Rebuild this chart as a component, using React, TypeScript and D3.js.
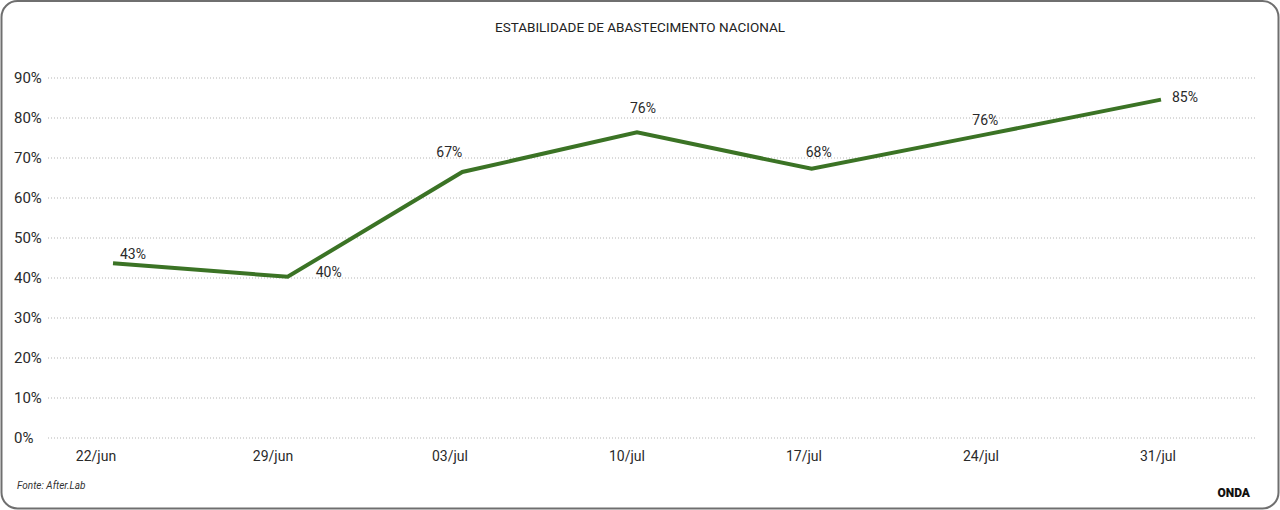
import React, { useEffect, useRef } from 'react';
import * as d3 from 'd3';

// chart data
const dates = ['22/jun', '29/jun', '03/jul', '10/jul', '17/jul', '24/jul', '31/jul'];
const values = [43.7, 40.3, 66.5, 76.4, 67.3, 75.9, 84.6];
const valueLabels = ['43%', '40%', '67%', '76%', '68%', '76%', '85%'];
const yTicks = [0, 10, 20, 30, 40, 50, 60, 70, 80, 90];

// label placement relative to each point (dx = centre, dy = baseline)
const labelOffsets: Array<[number, number]> = [
  [20, -4], [41, 0], [-13, -15], [6, -19], [7, -12], [-1, -9], [24, 2],
];

const W = 1280;
const H = 510;
const FONT = 'Roboto, "Noto Sans", Arial, sans-serif';

const App: React.FC = () => {
  const svgRef = useRef<SVGSVGElement>(null);

  useEffect(() => {
    if (!svgRef.current) return;
    const svg = d3.select(svgRef.current);
    svg.selectAll('*').remove();

    // outer frame
    svg.append('rect')
      .attr('x', 1.5)
      .attr('y', 1)
      .attr('width', W - 3)
      .attr('height', H - 2.5)
      .attr('rx', 16)
      .attr('fill', '#fff')
      .attr('stroke', '#6f6f6f')
      .attr('stroke-width', 2);

    svg.append('text')
      .attr('x', 640)
      .attr('y', 32)
      .attr('text-anchor', 'middle')
      .attr('font-family', FONT)
      .style('font-size', '13.5px')
      .style('fill', '#222')
      .text('ESTABILIDADE DE ABASTECIMENTO NACIONAL');

    const yScale = d3.scaleLinear().domain([0, 90]).range([438, 78]);
    const xLine = d3.scalePoint<string>().domain(dates).range([113, 1161]);
    const xLabel = d3.scalePoint<string>().domain(dates).range([96, 1158]);

    // gridlines
    svg.append('g')
      .selectAll('line')
      .data(yTicks)
      .join('line')
      .attr('x1', 48)
      .attr('x2', 1255)
      .attr('y1', d => yScale(d))
      .attr('y2', d => yScale(d))
      .attr('stroke', '#b5b5b5')
      .attr('stroke-width', 1)
      .attr('stroke-dasharray', '1,2');

    // y tick labels
    svg.append('g')
      .selectAll('text')
      .data(yTicks)
      .join('text')
      .attr('x', 14)
      .attr('y', d => yScale(d) + 5)
      .attr('font-family', FONT)
      .style('font-size', '15px')
      .style('fill', '#2a2a2a')
      .text(d => `${d}%`);

    // x tick labels
    svg.append('g')
      .selectAll('text')
      .data(dates)
      .join('text')
      .attr('x', d => xLabel(d) as number)
      .attr('y', 461)
      .attr('text-anchor', 'middle')
      .attr('font-family', FONT)
      .style('font-size', '14px')
      .style('fill', '#2a2a2a')
      .text(d => d);

    const line = d3.line<number>()
      .x((_, i) => xLine(dates[i]) as number)
      .y(d => yScale(d));

    svg.append('path')
      .datum(values)
      .attr('fill', 'none')
      .attr('stroke', '#3b7325')
      .attr('stroke-width', 4)
      .attr('stroke-linejoin', 'miter')
      .attr('d', line);

    // value labels
    svg.append('g')
      .selectAll('text')
      .data(values)
      .join('text')
      .attr('x', (_, i) => (xLine(dates[i]) as number) + labelOffsets[i][0])
      .attr('y', (d, i) => yScale(d) + labelOffsets[i][1])
      .attr('text-anchor', 'middle')
      .attr('font-family', FONT)
      .style('font-size', '14px')
      .style('fill', '#2a2a2a')
      .text((_, i) => valueLabels[i]);

    svg.append('text')
      .attr('x', 17)
      .attr('y', 489)
      .attr('font-family', FONT)
      .style('font-size', '10px')
      .style('font-style', 'italic')
      .style('fill', '#333')
      .text('Fonte: After.Lab');

    svg.append('text')
      .attr('x', 1250)
      .attr('y', 497)
      .attr('text-anchor', 'end')
      .attr('font-family', FONT)
      .style('font-size', '12px')
      .style('font-weight', '900')
      .style('fill', '#111')
      .text('ONDA');
  }, []);

  return (
    <svg
      ref={svgRef}
      width={W}
      height={H}
      style={{ position: 'fixed', left: 0, top: 0, display: 'block', background: '#fff' }}
    />
  );
};

export default App;
